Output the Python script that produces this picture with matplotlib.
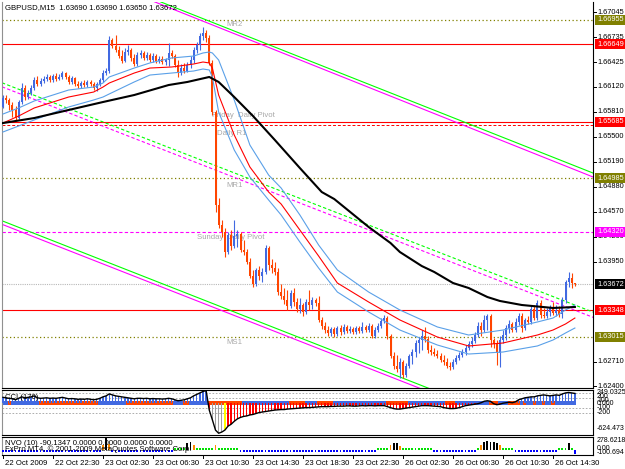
import matplotlib
matplotlib.use("Agg")
import matplotlib.pyplot as plt

plt.rcParams['font.family'] = ['Liberation Sans', 'DejaVu Sans']
FS = 5.6
FSR = 5.3

# ---------------- data ----------------
symbol_title = "GBPUSD,M15  1.63690 1.63690 1.63650 1.63672"

opens = [1.6587,1.6598,1.6596,1.6590,1.6583,1.6573,1.6593,1.6611,1.6600,1.6605,
         1.6611,1.6621,1.6616,1.6619,1.6622,1.6624,1.6621,1.6626,1.6622,1.6624,
         1.6629,1.6624,1.6618,1.6623,1.6616,1.6613,1.6617,1.6614,1.6618,1.6616,
         1.6611,1.6616,1.6621,1.6629,1.6632,1.6670,1.6663,1.6658,1.6650,1.6644,
         1.6655,1.6658,1.6648,1.6640,1.6652,1.6654,1.6648,1.6652,1.6645,1.6650,
         1.6644,1.6647,1.6643,1.6645,1.6654,1.6650,1.6639,1.6629,1.6635,1.6632,
         1.6639,1.6645,1.6658,1.6664,1.6675,1.6679,1.6673,1.6642,1.6581,1.6465,
         1.6441,1.6432,1.6407,1.6428,1.6415,1.6427,1.6429,1.6410,1.6407,1.6395,
         1.6377,1.6367,1.6385,1.6377,1.6382,1.6412,1.6391,1.6387,1.6382,1.6357,
         1.6352,1.6347,1.6340,1.6356,1.6345,1.6336,1.6341,1.6332,1.6345,1.6341,
         1.6347,1.6344,1.6323,1.6315,1.6310,1.6306,1.6311,1.6305,1.6313,1.6308,
         1.6314,1.6309,1.6311,1.6308,1.6313,1.6309,1.6314,1.6310,1.6315,1.6303,
         1.6310,1.6315,1.6321,1.6325,1.6303,1.6278,1.6265,1.6262,1.6270,1.6254,
         1.6265,1.6278,1.6283,1.6294,1.6298,1.6303,1.6299,1.6285,1.6283,1.6280,
         1.6278,1.6273,1.6270,1.6265,1.6264,1.6270,1.6275,1.6279,1.6283,1.6288,
         1.6293,1.6296,1.6304,1.6315,1.6310,1.6323,1.6327,1.6298,1.6293,1.6282,
         1.6298,1.6304,1.6313,1.6318,1.6310,1.6320,1.6327,1.6313,1.6323,1.6320,
         1.6336,1.6325,1.6344,1.6329,1.6327,1.6332,1.6337,1.6331,1.6335,1.6330,
         1.6347,1.6370,1.6375,1.6369]
highs = [1.6602,1.6602,1.6598,1.6593,1.6588,1.6596,1.6617,1.6614,1.6608,1.6614,
         1.6624,1.6626,1.6623,1.6626,1.6628,1.6627,1.6628,1.6629,1.6628,1.6632,
         1.6631,1.6627,1.6626,1.6624,1.6619,1.6619,1.6621,1.6621,1.6621,1.6618,
         1.6618,1.6623,1.6633,1.6635,1.6675,1.6673,1.6676,1.6663,1.6658,1.6660,
         1.6664,1.6660,1.6653,1.6655,1.6658,1.6657,1.6655,1.6654,1.6654,1.6653,
         1.6650,1.6650,1.6648,1.6667,1.6658,1.6653,1.6645,1.6640,1.6642,1.6643,
         1.6650,1.6662,1.6668,1.6679,1.6686,1.6683,1.6676,1.6645,1.6583,1.6474,
         1.6447,1.6437,1.6432,1.6434,1.6447,1.6434,1.6432,1.6422,1.6411,1.6400,
         1.6385,1.6387,1.6390,1.6387,1.6416,1.6415,1.6398,1.6395,1.6387,1.6367,
         1.6362,1.6360,1.6360,1.6362,1.6350,1.6350,1.6344,1.6349,1.6360,1.6351,
         1.6350,1.6352,1.6326,1.6320,1.6315,1.6314,1.6314,1.6315,1.6316,1.6318,
         1.6316,1.6315,1.6314,1.6315,1.6315,1.6320,1.6316,1.6319,1.6318,1.6314,
         1.6319,1.6325,1.6329,1.6327,1.6305,1.6283,1.6279,1.6275,1.6273,1.6269,
         1.6280,1.6286,1.6298,1.6301,1.6310,1.6314,1.6303,1.6291,1.6288,1.6285,
         1.6282,1.6279,1.6275,1.6270,1.6274,1.6279,1.6283,1.6286,1.6291,1.6296,
         1.6301,1.6308,1.6320,1.6320,1.6329,1.6330,1.6330,1.6300,1.6298,1.6303,
         1.6310,1.6316,1.6323,1.6320,1.6325,1.6331,1.6331,1.6325,1.6327,1.6341,
         1.6341,1.6347,1.6347,1.6337,1.6337,1.6341,1.6345,1.6341,1.6340,1.6351,
         1.6372,1.6382,1.6381,1.6369]
lows = [1.6586,1.6592,1.6583,1.6575,1.6571,1.6572,1.6591,1.6596,1.6597,1.6602,
        1.6608,1.6613,1.6613,1.6617,1.6619,1.6618,1.6618,1.6619,1.6621,1.6622,
        1.6622,1.6616,1.6616,1.6613,1.6611,1.6611,1.6612,1.6612,1.6613,1.6608,
        1.6607,1.6613,1.6618,1.6627,1.6629,1.6660,1.6655,1.6648,1.6642,1.6643,
        1.6652,1.6644,1.6638,1.6638,1.6648,1.6645,1.6645,1.6643,1.6643,1.6642,
        1.6642,1.6640,1.6639,1.6638,1.6648,1.6637,1.6624,1.6627,1.6629,1.6631,
        1.6635,1.6642,1.6654,1.6658,1.6670,1.6668,1.6639,1.6577,1.6457,1.6437,
        1.6426,1.6401,1.6405,1.6410,1.6412,1.6413,1.6407,1.6403,1.6392,1.6375,
        1.6364,1.6365,1.6372,1.6370,1.6380,1.6385,1.6381,1.6378,1.6354,1.6349,
        1.6342,1.6335,1.6337,1.6340,1.6332,1.6331,1.6327,1.6330,1.6335,1.6336,
        1.6340,1.6320,1.6311,1.6306,1.6303,1.6303,1.6301,1.6303,1.6304,1.6305,
        1.6306,1.6306,1.6305,1.6305,1.6306,1.6306,1.6308,1.6308,1.6300,1.6300,
        1.6308,1.6313,1.6319,1.6299,1.6275,1.6262,1.6258,1.6250,1.6250,1.6252,
        1.6263,1.6268,1.6277,1.6282,1.6285,1.6295,1.6282,1.6279,1.6278,1.6275,
        1.6270,1.6267,1.6263,1.6260,1.6262,1.6268,1.6273,1.6277,1.6279,1.6285,
        1.6289,1.6294,1.6301,1.6303,1.6308,1.6310,1.6289,1.6288,1.6267,1.6264,
        1.6294,1.6298,1.6306,1.6308,1.6308,1.6316,1.6308,1.6310,1.6318,1.6318,
        1.6323,1.6323,1.6325,1.6325,1.6325,1.6327,1.6329,1.6327,1.6326,1.6325,
        1.6344,1.6364,1.6362,1.6365]
closes = [1.6598,1.6596,1.6590,1.6583,1.6573,1.6593,1.6611,1.6600,1.6605,1.6611,
          1.6621,1.6616,1.6619,1.6622,1.6624,1.6621,1.6626,1.6622,1.6624,1.6629,
          1.6624,1.6618,1.6623,1.6616,1.6613,1.6617,1.6614,1.6618,1.6616,1.6611,
          1.6616,1.6621,1.6629,1.6632,1.6670,1.6663,1.6658,1.6650,1.6644,1.6655,
          1.6658,1.6648,1.6640,1.6652,1.6654,1.6648,1.6652,1.6645,1.6650,1.6644,
          1.6647,1.6643,1.6645,1.6654,1.6650,1.6639,1.6629,1.6635,1.6632,1.6639,
          1.6645,1.6658,1.6664,1.6675,1.6679,1.6673,1.6642,1.6581,1.6465,1.6441,
          1.6432,1.6407,1.6428,1.6415,1.6427,1.6429,1.6410,1.6407,1.6395,1.6377,
          1.6367,1.6385,1.6377,1.6382,1.6412,1.6391,1.6387,1.6382,1.6357,1.6352,
          1.6347,1.6340,1.6356,1.6345,1.6336,1.6341,1.6332,1.6345,1.6341,1.6347,
          1.6344,1.6323,1.6315,1.6310,1.6306,1.6311,1.6305,1.6313,1.6308,1.6314,
          1.6309,1.6311,1.6308,1.6313,1.6309,1.6314,1.6310,1.6315,1.6303,1.6310,
          1.6315,1.6321,1.6325,1.6303,1.6278,1.6265,1.6262,1.6270,1.6254,1.6265,
          1.6278,1.6283,1.6294,1.6298,1.6303,1.6299,1.6285,1.6283,1.6280,1.6278,
          1.6273,1.6270,1.6265,1.6264,1.6270,1.6275,1.6279,1.6283,1.6288,1.6293,
          1.6296,1.6304,1.6315,1.6310,1.6323,1.6327,1.6298,1.6293,1.6282,1.6298,
          1.6304,1.6313,1.6318,1.6310,1.6320,1.6327,1.6313,1.6323,1.6320,1.6336,
          1.6325,1.6344,1.6329,1.6327,1.6332,1.6337,1.6331,1.6335,1.6330,1.6347,
          1.6370,1.6375,1.6369,1.63672]

# moving averages, read at sample bars
ma_idx = [0, 5, 10, 21, 29, 32, 34, 42, 47, 54, 61, 64, 66, 67, 69, 74, 79, 85, 89,
          95, 101, 107, 117, 127, 139, 149, 160, 171, 176, 180, 183]
ma_red = [1.65672, 1.65759, 1.65859, 1.65995, 1.66057, 1.66119, 1.66169, 1.66293,
          1.66355, 1.66368, 1.66405, 1.66430, 1.66418, 1.66355, 1.66020, 1.65523,
          1.65126, 1.64815, 1.64666, 1.64343, 1.64020, 1.63685, 1.63449, 1.63226,
          1.63014, 1.62903, 1.62940, 1.63039, 1.63101, 1.63176, 1.63250]
ma_hi = [1.65784, 1.65859, 1.65946, 1.66082, 1.66119, 1.66169, 1.66244, 1.66355,
         1.66418, 1.66480, 1.66504, 1.66542, 1.66554, 1.66542, 1.66455, 1.65958,
         1.65399, 1.65026, 1.64865, 1.64530, 1.64157, 1.63847, 1.63573, 1.63350,
         1.63139, 1.63039, 1.63101, 1.63201, 1.63250, 1.63350, 1.63412]
ma_lo = [1.65561, 1.65635, 1.65710, 1.65871, 1.65958, 1.65995, 1.66033, 1.66182,
         1.66268, 1.66293, 1.66318, 1.66343, 1.66331, 1.66244, 1.65809, 1.65337,
         1.65002, 1.64716, 1.64530, 1.64194, 1.63871, 1.63573, 1.63325, 1.63101,
         1.62915, 1.62803, 1.62828, 1.62903, 1.62977, 1.63064, 1.63126]
slow_idx = [0, 10, 21, 32, 42, 53, 59, 66, 69, 74, 80, 87, 95, 102, 106, 117, 124,
            127, 134, 138, 144, 149, 155, 159, 166, 176, 183]
ma_slow = [1.65672, 1.65734, 1.65834, 1.65933, 1.66020, 1.66144, 1.66182, 1.66244,
           1.66182, 1.65995, 1.65759, 1.65461, 1.65113, 1.64815, 1.64728, 1.64381,
           1.64182, 1.64070, 1.63896, 1.63822, 1.63685, 1.63623, 1.63511, 1.63462,
           1.63412, 1.63375, 1.63387]

# trend channels: (bar, price) end points
chan_up_green = [(47.04, 1.67229), (188.8, 1.65051)]
chan_up_mag = [(47.04, 1.67200), (188.8, 1.65002)]
chan_lo_green = [(-0.32, 1.64458), (188.8, 1.61576)]
chan_lo_mag = [(-0.32, 1.64414), (188.8, 1.61533)]
chan_mid_green = [(-0.32, 1.66172), (188.8, 1.63324)]
chan_mid_mag = [(-0.32, 1.66122), (188.8, 1.63259)]

# horizontal levels
level_prices = [1.66955, 1.66649, 1.65685, 1.65650, 1.64985, 1.64320, 1.63672, 1.63348, 1.63015]
level_kinds = ['olive', 'red', 'red', 'reddash', 'olive', 'magenta', 'gray', 'red', 'olive']
level_tags = ['1.66955', '1.66649', '1.65685', None, '1.64985', '1.64320', '1.63672', '1.63348', '1.63015']
pivot_names = ['MR2', 'Friday  Daily Pivot', 'Daily R1', 'MR1', 'Sunday  Daily Pivot', 'MS1']
pivot_bar = [71.5, 67.0, 68.5, 71.5, 62.0, 71.5]
pivot_price = [1.66895, 1.65760, 1.65540, 1.64890, 1.64250, 1.62940]

price_ticks = [1.67045, 1.66735, 1.66425, 1.66120, 1.65810, 1.65500, 1.65190,
               1.64880, 1.64570, 1.64260, 1.63950, 1.62710, 1.62400]

time_labels = ['22 Oct 2009', '22 Oct 22:30', '23 Oct 02:30', '23 Oct 06:30',
               '23 Oct 10:30', '23 Oct 14:30', '23 Oct 18:30', '23 Oct 22:30',
               '26 Oct 02:30', '26 Oct 06:30', '26 Oct 10:30', '26 Oct 14:30']
time_bars = [0, 16, 32, 48, 64, 80, 96, 112, 128, 144, 160, 176]

cci = [110, 100, 90, 80, 60, 90, 120, 100, 110, 120, 140,
       100, 90, 95, 100, 90, 95, 90, 100, 110, 95, 80, 85, 80, 70, 75, 70, 80, 70, 60, 70,
       90, 120, 140, 180, 160, 140, 130, 120, 110,
       100, 90, 80, 90, 90, 85, 90, 80, 85, 80, 80, 75, 80, 90, 80,
       60, 40, 50, 60, 80, 100, 140, 170, 200, 230, 249,
       -150, -350, -560, -624, -600, -560, -480, -440, -380, -330, -300,
       -280, -270, -250, -240, -220, -200, -190, -180, -170, -160, -150, -145, -140, -140,
       -130, -125, -120, -115, -110, -105, -100, -100, -95, -90,
       -85, -80, -80, -80, -75, -75, -70, -70, -70, -65, -65, -70, -70, -65, -60, -65,
       -60, -60, -65, -60, -60, -60,
       -80, -100, -120, -130, -130, -120, -110, -100,
       -90, -80, -70, -60, -60, -60, -65, -70, -75, -80,
       -100, -110, -120, -120, -115, -100,
       -80, -60, -50, -40, -30, -20, 0,
       30, 40, 30,
       -20, -40, -30, -10,
       0, 10, 0, 20,
       60, 80, 100, 110, 120, 120,
       140, 150, 160, 150, 140, 150, 160, 150,
       180, 200, 210, 200, 190]
cci_gray_bars = [67, 68, 69, 70]
cci_yellow_bars = [71]
strip_runs = [('b', 2), ('r', 1), ('b', 9), ('r', 19), ('b', 9), ('r', 15), ('b', 3),
              ('r', 2), ('b', 6), ('r', 11), ('b', 15), ('r', 5), ('b', 4), ('r', 5),
              ('b', 17), ('r', 7), ('b', 12), ('r', 3), ('b', 11), ('r', 3), ('b', 3),
              ('r', 4), ('b', 1), ('r', 1), ('b', 2), ('r', 1), ('b', 2), ('r', 1),
              ('b', 2), ('r', 1), ('b', 7)]
cci_levels = [200, 100, -100, -200]

nvo = [-35, -30, -40, -35, -30, -35, -40, -35, -30, -35, -40, -35, -30, -35, -35, -40,
       -35, -30, -35, -40, -35, -30, -35, -40, -35, -30, -35, -40, -35, -30, -35, -35,
       110, 278, 130, -35,
       -35, -30, -40, -35, -30, -35, -40, -35, -30, -35, -40, -35, -30, -35, -35, -40,
       -35, -30, -35,
       50, 45, 50, 55, 150, 170, 110, 50, 45, 50, 55,
       45, 45, 120, 45, 50, 45, 40, 45, 50, 45,
       -35, -30, -40, -35, -30, -35, -40, -35, -30, -35, -40, -35, -30, -35, -35, -40,
       -35, -30, -40, -35, -30, -35, -40, -35, -30, -35, -40, -35, -30, -35, -35, -40,
       -35, -30, -40, -35, -30, -35, -40, -35, -30, -35, -40, -35,
       45, 50, 45, 40,
       110, 160, 150, 100,
       45, 50, 45, 40, 45, 50, 45, 40, 45, 50,
       -35, -30, -40, -35, -30, -35, -40, -35, -30, -35, -40, -35, -30, -35,
       45,
       110, 180, 200, 190, 170, 150, 110,
       45, 50, 45, 40,
       -35, -30, -40, -35, -30, -35, -40, -35, -30, -35, -40, -35, -30, -35,
       45, 50, 45,
       150, 45, -90]

# ---------------- colours ----------------
BULL = '#4169E1'
BEAR = '#FF4500'
OLIVE = '#808000'
RED = '#FF0000'
MAG = '#FF00FF'
GREEN = '#00FF00'
LBLUE = '#5AA0E8'

# ---------------- layout ----------------
W, H = 625, 469
fig = plt.figure(figsize=(W / 100, H / 100), dpi=100)
fig.patch.set_facecolor('white')


def rect(x0, y0, x1, y1):
    return [x0 / W, 1 - y1 / H, (x1 - x0) / W, (y1 - y0) / H]


XL = (-0.32, 188.8)
ax = fig.add_axes(rect(2, 2, 593, 388))
axc = fig.add_axes(rect(2, 390, 593, 435))
axn = fig.add_axes(rect(2, 437, 593, 455))
for a in (ax, axc, axn):
    a.set_xlim(*XL)
    a.set_xticks([])
    a.set_yticks([])
    a.set_facecolor('white')
    for s in a.spines.values():
        s.set_linewidth(0.8)
        s.set_color('black')
    a.spines['left'].set_color('#909090')
ax.spines['top'].set_visible(False)
ax.set_ylim(1.623810, 1.671752)

n = len(closes)
xs = list(range(n))

# horizontal levels
style = {
    'olive': dict(color=OLIVE, ls=(0, (1, 2)), lw=0.9),
    'red': dict(color=RED, ls='-', lw=0.8),
    'reddash': dict(color=RED, ls=(0, (3, 2)), lw=0.7),
    'magenta': dict(color=MAG, ls=(0, (3, 2)), lw=0.8),
    'gray': dict(color='#B8B8B8', ls=(0, (1, 1)), lw=0.8),
}
for p, k in zip(level_prices, level_kinds):
    ax.axhline(p, zorder=1, **style[k])

# channels
for pts, col, ls in [(chan_up_green, GREEN, '-'), (chan_up_mag, MAG, '-'),
                     (chan_lo_green, GREEN, '-'), (chan_lo_mag, MAG, '-'),
                     (chan_mid_green, GREEN, (0, (3, 2))), (chan_mid_mag, MAG, (0, (3, 2)))]:
    ax.plot([pts[0][0], pts[1][0]], [pts[0][1], pts[1][1]], color=col, ls=ls, lw=0.8, zorder=2)

# pivot names
for name, b, p in zip(pivot_names, pivot_bar, pivot_price):
    ax.text(b, p, name, color='#A8A8A8', fontsize=FS, ha='left', va='center', zorder=2)

# candles
for i in xs:
    o, h, l, c = opens[i], highs[i], lows[i], closes[i]
    col = BULL if c > o else BEAR
    ax.vlines(i, l, h, color=col, lw=0.8, zorder=4)
    lo_b, hi_b = min(o, c), max(o, c)
    if hi_b - lo_b < 0.00008:
        hi_b = lo_b + 0.00008
    ax.bar(i, hi_b - lo_b, bottom=lo_b, width=0.64, color=col, lw=0, zorder=4)

# moving averages
ax.plot(ma_idx, ma_hi, color=LBLUE, lw=0.8, zorder=5)
ax.plot(ma_idx, ma_lo, color=LBLUE, lw=0.8, zorder=5)
ax.plot(ma_idx, ma_red, color=RED, lw=0.8, zorder=5)
ax.plot(slow_idx, ma_slow, color='black', lw=1.5, zorder=6)

# title
fig.text(5 / W, 1 - 8 / H, symbol_title, fontsize=FS, color='black', va='center', ha='left')

# price axis
ytr = ax.get_yaxis_transform()
xoff = 4.0 / 591
for p in price_ticks:
    ax.plot([1.0, 1.0 + 3 / 591], [p, p], color='black', lw=0.7, transform=ytr, clip_on=False)
    ax.text(1.0 + xoff, p, '%.5f' % p, transform=ytr, fontsize=FSR, va='center', ha='left',
            clip_on=False)
tag_color = {'olive': OLIVE, 'red': RED, 'magenta': MAG, 'gray': 'black'}
for p, k, t in zip(level_prices, level_kinds, level_tags):
    if t is None:
        continue
    ax.text(1.0 + xoff, p, t, transform=ytr, fontsize=FSR, va='center', ha='left',
            color='white', clip_on=False, zorder=10,
            bbox=dict(boxstyle='square,pad=0.22', fc=tag_color[k], ec='none'))

# ---------------- CCI panel ----------------
axc.set_ylim(-660, 260)
for lv in cci_levels:
    axc.axhline(lv, color='#A0A0A0', ls=(0, (2, 2)), lw=0.6, zorder=1)
strip = []
for c, k in strip_runs:
    strip += [c] * k
for i in xs:
    axc.bar(i, 80, bottom=-50, width=1.0, color=BULL if strip[i] == 'b' else BEAR, lw=0, zorder=2)
for i in xs:
    v = cci[i]
    if i in cci_gray_bars:
        col = '#A0A0A0'
    elif i in cci_yellow_bars:
        col = '#FFFF00'
    else:
        col = BULL if v >= 0 else RED
    axc.bar(i, v, bottom=0, width=0.45, color=col, lw=0, zorder=3)
axc.plot(xs, cci, color='black', lw=1.0, zorder=4)
fig.text(5 / W, 1 - 397 / H, 'CCI (170)', fontsize=FS, color='black', va='center')
ctr = axc.get_yaxis_transform()
for v, t in [(205, '249.0325'), (130, '200'), (55, '100'), (-20, '0.000'),
             (-100, '-100'), (-200, '-200'), (-530, '-624.473')]:
    axc.text(1.0 + xoff, v, t, transform=ctr, fontsize=FSR - 0.3, va='center', ha='left',
             clip_on=False)

# ---------------- NVO panel ----------------
axn.set_ylim(-105, 290)
for i in xs:
    v = nvo[i]
    if v < 0:
        col = '#0000FF'
    elif v < 80:
        col = '#00E000'
    elif v < 140:
        col = '#FF8C00'
    else:
        col = 'black'
    axn.bar(i, v, bottom=0, width=0.6, color=col, lw=0, zorder=3)
fig.text(5 / W, 1 - 443 / H, 'NVO (10) -90.1347 0.0000 0.0000 0.0000 0.0000', fontsize=FS,
         color='black', va='center')
fig.text(5 / W, 1 - 449 / H, 'FxPro MT4, \u00a9 2001-2009 MetaQuotes Software Corp.', fontsize=FS,
         color='black', va='center')
ntr = axn.get_yaxis_transform()
for v, t in [(220, '278.6218'), (30, '0.00'), (-40, '-100.694')]:
    axn.text(1.0 + xoff, v, t, transform=ntr, fontsize=FSR - 0.3, va='center', ha='left',
             clip_on=False)

# ---------------- time axis ----------------
xtr = axn.get_xaxis_transform()
for b, t in zip(time_bars, time_labels):
    axn.plot([b, b], [0, -3 / 18], color='black', lw=0.7, transform=xtr, clip_on=False)
    axn.text(b + 0.6, -5 / 18, t, transform=xtr, fontsize=FS, va='top', ha='left', clip_on=False)

fig.savefig('out.png', dpi=100, facecolor='white')
